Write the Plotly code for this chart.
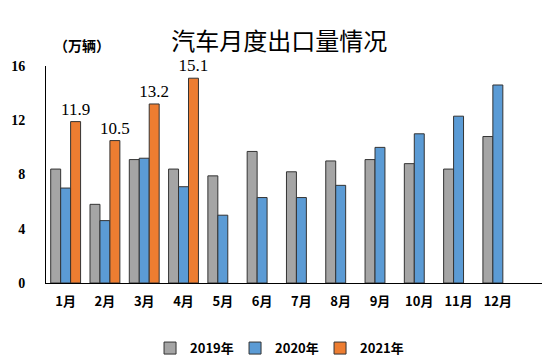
import plotly.graph_objects as go

months = ["1月", "2月", "3月", "4月", "5月", "6月", "7月", "8月", "9月", "10月", "11月", "12月"]
s2019 = [8.4, 5.8, 9.1, 8.4, 7.9, 9.7, 8.2, 9.0, 9.1, 8.8, 8.4, 10.8]
s2020 = [7.0, 4.6, 9.2, 7.1, 5.0, 6.3, 6.3, 7.2, 10.0, 11.0, 12.3, 14.6]
s2021 = [11.9, 10.5, 13.2, 15.1, None, None, None, None, None, None, None, None]
names = ["2019年", "2020年", "2021年"]
yticks = [0, 4, 8, 12, 16]

colors = ["#A5A5A5", "#5B9BD5", "#ED7D31"]
cjk = "Noto Sans CJK SC"

fig = go.Figure()
for name, vals, col in zip(names, [s2019, s2020, s2021], colors):
    is21 = name == "2021年"
    fig.add_trace(go.Bar(
        x=months, y=vals, name=name,
        marker=dict(color=col, line=dict(color="#333333", width=1)),
        text=[("%.1f" % v if v is not None else "") for v in vals] if is21 else None,
        textposition="outside" if is21 else None,
        constraintext="none",
        textfont=dict(family="Liberation Serif", size=17, color="#000000"),
        cliponaxis=False,
    ))

fig.update_layout(
    width=550, height=360,
    barmode="group", bargap=0.24, bargroupgap=0,
    paper_bgcolor="white", plot_bgcolor="white",
    margin=dict(l=38, r=13, t=58, b=85, autoexpand=False),
    title=dict(text="汽车月度出口量情况", x=0.493, xanchor="center", y=0.906, yanchor="middle",
               font=dict(family=cjk, size=24, color="#000000")),
    showlegend=True,
    legend=dict(orientation="h", x=0.464, xanchor="center", y=-0.30, yanchor="middle",
                font=dict(family=cjk, size=13, color="#000000", weight="bold"),
                itemwidth=30, tracegroupgap=0, entrywidth=40, entrywidthmode="pixels"),
    font=dict(family=cjk, color="#000000"),
    annotations=[dict(text="（万辆）", xref="paper", yref="paper", x=0.012, y=1.097,
                      xanchor="left", yanchor="middle", showarrow=False,
                      font=dict(family=cjk, size=14, color="#000000", weight="bold"))],
)
fig.update_yaxes(range=[0, 16], tickvals=yticks, showgrid=False, zeroline=False,
                 showline=True, linecolor="#000000", linewidth=1, ticks="",
                 ticklabelstandoff=17, automargin=False,
                 tickfont=dict(family="Liberation Serif", size=14, color="#000000", weight="bold"))
fig.update_xaxes(range=[-0.5, 12.2], showline=True, linecolor="#000000", linewidth=1, ticks="",
                 ticklabelstandoff=6, automargin=False,
                 tickfont=dict(family=cjk, size=13, color="#000000", weight="bold"))

fig.write_html("out.html")
